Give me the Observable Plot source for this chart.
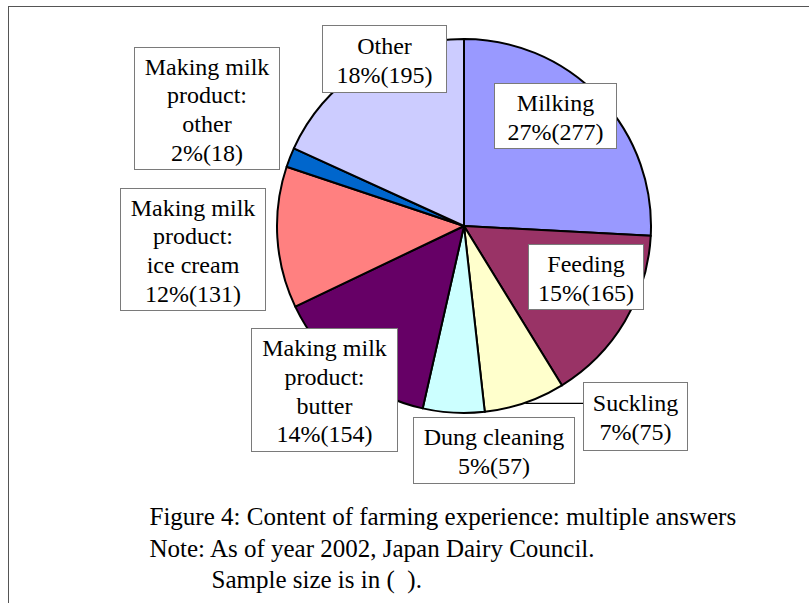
<!DOCTYPE html>
<html>
<head>
<meta charset="utf-8">
<script src="https://cdn.jsdelivr.net/npm/d3@7"></script>
<script src="https://cdn.jsdelivr.net/npm/@observablehq/plot@0.6"></script>
<style>
  html, body { margin: 0; padding: 0; background: #fff; overflow: hidden; }
  #wrap { position: relative; width: 809px; height: 603px; }
  #frame { position: absolute; left: 8px; top: 6px; width: 900px; height: 700px;
           border-left: 1px solid #555; border-top: 1px solid #555; }
  #chart { position: absolute; left: 0; top: 0; }
</style>
</head>
<body>
<div id="wrap"><div id="frame"></div><div id="chart"></div></div>
<script>
// ---- data ----
const categories = ["Milking", "Feeding", "Suckling", "Dung cleaning",
  "Making milk product: butter", "Making milk product: ice cream",
  "Making milk product: other", "Other"];
const labelNames = ["Milking", "Feeding", "Suckling", "Dung cleaning",
  "Making milk\nproduct:\nbutter", "Making milk\nproduct:\nice cream",
  "Making milk\nproduct:\nother", "Other"];
const counts = [277, 165, 75, 57, 154, 131, 18, 195];
const percents = [27, 15, 7, 5, 14, 12, 2, 18];
const colors = ["#9999FF", "#993366", "#FFFFCC", "#CCFFFF", "#660066", "#FF8080", "#0066CC", "#CCCCFF"];
const captionLines = [
  "Figure 4: Content of farming experience: multiple answers",
  "Note: As of year 2002, Japan Dairy Council.",
  "Sample size is in (  )."
];

// ---- layout (pixels) ----
const W = 809, H = 603;
const pieCenter = [464, 226];
const pieRadius = 187;
const labelBoxes = [            // [x1, y1, x2, y2]
  [494, 83, 616, 148],
  [528, 244, 643, 309],
  [583, 382, 687, 450],
  [413, 417, 574, 483],
  [251, 328, 397, 451],
  [120, 188, 265, 310],
  [134, 47, 279, 169],
  [322, 25, 446, 92]
];
const leaderFor = ["Suckling"];
const captionPos = [[149, 524], [149, 556], [211, 587]];
const serif = "'Liberation Serif', 'Times New Roman', Times, serif";

// ---- derived ----
const slices = categories.map((c, i) => ({
  category: c, label: labelNames[i], count: counts[i], pct: percents[i], color: colors[i]
}));
const arcs = d3.pie().sort(null).value(d => d.count).startAngle(0).endAngle(2 * Math.PI)(slices);

const labels = slices.map((s, i) => {
  const [x1, y1, x2, y2] = labelBoxes[i];
  return { ...s, x1, y1, x2, y2, text: `${s.label}\n${s.pct}%(${s.count})` };
});

const leaders = arcs.filter(a => leaderFor.includes(a.data.category)).map(a => {
  const m = (a.startAngle + a.endAngle) / 2;
  const px = pieCenter[0] + pieRadius * Math.sin(m);
  const py = pieCenter[1] - pieRadius * Math.cos(m);
  const box = labels.find(l => l.category === a.data.category);
  return { x1: px, y1: py, x2: box.x1, y2: py };
});

const captions = captionLines.map((t, i) => ({ text: t, x: captionPos[i][0], y: captionPos[i][1] }));

function wedges(index, scales) {
  const sx = scales.x, sy = scales.y;
  const cx = sx(pieCenter[0]), cy = sy(pieCenter[1]);
  const r = sx(pieCenter[0] + pieRadius) - cx;
  const arc = d3.arc().innerRadius(0).outerRadius(r);
  const g = d3.create("svg:g").attr("transform", `translate(${cx},${cy})`);
  g.selectAll("path").data(arcs).join("path")
    .attr("d", arc)
    .attr("fill", d => d.data.color)
    .attr("stroke", "#000")
    .attr("stroke-width", 2)
    .attr("stroke-linejoin", "round");
  return g.node();
}

const chart = Plot.plot({
  width: W, height: H,
  margin: 0,
  style: { background: "transparent", fontFamily: serif },
  x: { domain: [0, W], range: [0, W], axis: null },
  y: { domain: [0, H], range: [0, H], axis: null },
  marks: [
    wedges,
    Plot.link(leaders, { x1: "x1", y1: "y1", x2: "x2", y2: "y2", stroke: "#000", strokeWidth: 1.2 }),
    Plot.rect(labels, {
      x1: d => d.x1 + 0.5, y1: d => d.y1 + 0.5, x2: d => d.x2 + 0.5, y2: d => d.y2 + 0.5,
      fill: "white", stroke: "#7a7a7a", strokeWidth: 1
    }),
    Plot.text(labels, {
      x: d => (d.x1 + d.x2) / 2, y: d => (d.y1 + d.y2) / 2,
      text: "text", fontSize: 24, lineHeight: 1.2, lineAnchor: "middle",
      textAnchor: "middle", fill: "#000", fontFamily: serif
    }),
    Plot.text(captions, {
      x: "x", y: "y", text: "text", fontSize: 25, lineAnchor: "bottom",
      textAnchor: "start", fill: "#000", fontFamily: serif
    })
  ]
});
document.getElementById("chart").appendChild(chart);
</script>
</body>
</html>
